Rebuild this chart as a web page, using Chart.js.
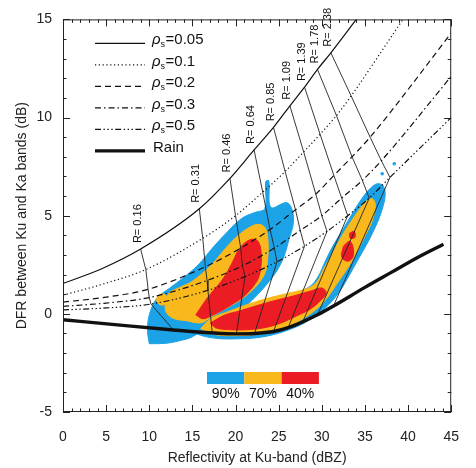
<!DOCTYPE html>
<html>
<head>
<meta charset="utf-8">
<script src="https://cdn.jsdelivr.net/npm/chart.js"></script>
<style>
  html, body { margin: 0; padding: 0; background: #fff; }
  canvas { display: block; }
</style>
</head>
<body>
<canvas id="dfr" width="476" height="468"></canvas>
<script>
// snowfall rate for each iso-R line (drawn as "R= ..." labels)
const rateLabels = ['0.16', '0.31', '0.46', '0.64', '0.85', '1.09', '1.39', '1.78', '2.38'];
const densityLabels = ['0.05', '0.1', '0.2', '0.3', '0.5'];
const pctLabels = ['90%', '70%', '40%'];

// DFR vs Ku reflectivity for each snow density; the first two points of every
// curve lead in from x=0, the next nine sit on the iso-R lines, the rest run out
const rho005X = [0, 4.5, 9.0, 15.8, 19.35, 22.15, 24.4, 26.3, 28.0, 29.5, 31.05, 34.0];
const rho005Y = [1.55, 2.3, 3.3, 5.35, 6.9, 8.35, 9.5, 10.6, 11.55, 12.45, 13.3, 15.0];
const rho01X = [0, 4.5, 9.6, 16.2, 20.0, 23.15, 25.75, 27.9, 29.8, 31.7, 33.4, 39.4];
const rho01Y = [0.95, 1.5, 2.26, 3.85, 5.0, 6.2, 7.25, 8.25, 9.15, 10.1, 11.1, 15.0];
const rho02X = [0, 5, 9.87, 16.5, 20.6, 24.0, 26.95, 29.3, 31.4, 33.5, 35.6, 45];
const rho02Y = [0.6, 0.85, 1.25, 2.4, 3.35, 4.3, 5.3, 6.1, 7.05, 8.0, 9.0, 14.3];
const rho03X = [0, 5, 10.0, 16.7, 20.8, 24.5, 27.5, 30.0, 32.3, 34.7, 36.9, 45];
const rho03Y = [0.38, 0.55, 0.83, 1.7, 2.45, 3.35, 4.25, 5.0, 5.9, 6.8, 7.8, 12.1];
const rho05X = [0, 5, 10.2, 16.8, 21.1, 24.8, 28.0, 30.6, 33.0, 35.5, 37.9, 45];
const rho05Y = [0.2, 0.3, 0.5, 1.2, 1.9, 2.65, 3.45, 4.2, 5.0, 5.9, 6.95, 10.0];
const rainX = [0, 6, 12.8, 17.3, 20.1, 22.2, 24.4, 26.1, 27.8, 29.5, 31.35, 35, 38, 41, 44.1];
const rainY = [-0.3, -0.55, -0.82, -0.97, -1.02, -1.0, -0.9, -0.7, -0.4, -0.05, 0.4, 1.35, 2.1, 2.85, 3.55];
const LEAD = 2;

// occurrence contours (outlines, dBZ / dB)
const blueUpperX = [10.0, 9.8, 10.0, 10.9, 12.4, 13.9, 15.75, 17.3, 19.1, 20.7, 22.2, 23.4, 23.5, 23.85, 24.1, 25.9, 26.55, 26.7, 26.2, 25.6, 24.8, 23.8, 22.6, 21.3, 19.6, 17.9, 16.2, 14.85, 13.7, 12.0];
const blueUpperY = [-1.52, -0.86, -0.05, 0.81, 1.32, 1.82, 2.53, 3.34, 4.2, 4.86, 5.16, 5.37, 6.73, 6.78, 5.42, 5.67, 5.32, 4.61, 3.8, 2.9, 2.2, 1.6, 1.0, 0.45, -0.05, -0.45, -0.85, -1.2, -1.35, -1.5];
const blueLowerX = [15.4, 16.5, 17.9, 19.5, 21.0, 22.4, 23.85, 25.5, 27.2, 28.7, 29.6, 30.4, 31.2, 32.1, 33.0, 33.9, 34.8, 35.7, 36.45, 37.1, 37.35, 37.0, 36.3, 35.4, 34.3, 33.2, 32.1, 30.9, 29.6, 28.0, 26.2, 24.4, 22.4, 20.4, 18.3, 16.5];
const blueLowerY = [-1.01, -0.56, -0.25, 0.0, 0.25, 0.51, 0.71, 0.91, 1.11, 1.42, 1.92, 2.68, 3.39, 4.05, 4.71, 5.37, 5.97, 6.43, 6.63, 6.53, 6.08, 5.32, 4.51, 3.7, 2.84, 1.97, 1.16, 0.51, 0.0, -0.46, -0.81, -1.06, -1.22, -1.27, -1.27, -1.16];
const blueDotX = [37.0, 38.4];
const blueDotY = [7.14, 7.65];
const orangeUpperX = [11.8, 12.3, 13.4, 14.85, 16.2, 17.4, 18.55, 19.6, 20.6, 21.6, 22.6, 23.4, 23.75, 23.75, 23.5, 22.8, 21.7, 20.4, 18.8, 17.2, 16.0, 14.3, 12.9, 12.0];
const orangeUpperY = [0.51, 1.06, 1.32, 1.62, 2.08, 2.58, 3.19, 3.7, 4.1, 4.4, 4.56, 4.4, 3.8, 2.94, 2.18, 1.62, 1.11, 0.66, 0.25, -0.15, -0.46, -0.35, -0.25, 0.05];
const orangeRingX = [10.8, 11.1, 11.7, 12.15, 11.9, 11.25];
const orangeRingY = [0.71, 0.96, 1.01, 0.81, 0.51, 0.46];
const orangeLowerX = [15.95, 17.1, 19.35, 21.6, 23.85, 26.7, 28.5, 29.5, 30.25, 31.2, 32.1, 33.1, 34.1, 35.0, 35.8, 36.2, 35.9, 35.1, 34.1, 33.0, 31.8, 30.7, 29.4, 27.8, 26.0, 24.2, 22.2, 19.9, 17.7];
const orangeLowerY = [-0.76, -0.25, 0.15, 0.51, 0.81, 1.11, 1.32, 1.67, 2.33, 3.04, 3.8, 4.51, 5.16, 5.67, 5.87, 5.57, 4.81, 4.05, 3.19, 2.33, 1.57, 0.86, 0.25, -0.25, -0.66, -0.91, -1.06, -1.11, -1.06];
const redUpperX = [15.4, 16.1, 16.9, 17.7, 18.45, 19.1, 19.7, 20.25, 21.0, 21.9, 22.6, 22.95, 22.95, 22.6, 21.9, 20.9, 19.9, 18.55, 17.2, 16.2];
const redUpperY = [-0.05, 0.41, 0.91, 1.32, 1.72, 2.18, 2.68, 3.19, 3.59, 3.8, 3.7, 3.19, 2.43, 1.77, 1.32, 0.86, 0.56, 0.2, -0.1, -0.25];
const redLowerX = [17.1, 18.8, 20.5, 22.4, 24.4, 26.7, 28.7, 30.0, 30.5, 29.8, 28.7, 27.1, 25.3, 23.3, 21.3, 19.35, 17.7];
const redLowerY = [-0.46, -0.05, 0.15, 0.41, 0.66, 0.91, 1.16, 1.32, 1.06, 0.66, 0.25, -0.1, -0.46, -0.71, -0.81, -0.81, -0.71];
const redPatchX = [32.5, 33.2, 33.6, 33.6, 33.0, 32.3];
const redPatchY = [3.44, 3.7, 3.44, 2.89, 2.68, 2.89];
const redSpotX = [33.2, 33.75, 33.85, 33.3];
const redSpotY = [4.1, 4.2, 3.9, 3.85];

const BLUE = '#1ca2e6', ORANGE = '#f9b81b', RED = '#ec1c24', INK = '#111';
const FONT = '"Liberation Sans", Arial, sans-serif';

const xy = (xs, ys) => xs.map((v, i) => ({ x: v, y: ys[i] }));
const ring = (xs, ys) => { const p = xy(xs, ys); p.push(p[0]); return p; };

function curve(xs, ys, dash, width) {
  return {
    data: xy(xs, ys), showLine: true, borderColor: INK, borderWidth: width,
    borderDash: dash, pointRadius: 0, cubicInterpolationMode: 'monotone', fill: false, order: 0
  };
}

function blob(xs, ys, color, order) {
  return {
    data: ring(xs, ys), showLine: true, borderColor: color, borderWidth: 1,
    backgroundColor: color, pointRadius: 0, tension: 0.35, fill: 'shape', order
  };
}

const styles = [
  { xs: rho005X, ys: rho005Y, dash: [], width: 1.2 },
  { xs: rho01X, ys: rho01Y, dash: [1.2, 2.6], width: 1.2 },
  { xs: rho02X, ys: rho02Y, dash: [6, 4], width: 1.2 },
  { xs: rho03X, ys: rho03Y, dash: [6, 3, 1.5, 3], width: 1.2 },
  { xs: rho05X, ys: rho05Y, dash: [6, 2.5, 1.4, 2.5, 1.4, 2.5, 1.4, 2.5], width: 1.2 },
  { xs: rainX, ys: rainY, dash: [], width: 3.4 }
];

const datasets = [];
styles.forEach(s => datasets.push(curve(s.xs, s.ys, s.dash, s.width)));

// iso-R lines join the same node on every density curve, then drop to rain
rateLabels.forEach((r, k) => {
  const pts = styles.map(s => ({ x: s.xs[k + LEAD], y: s.ys[k + LEAD] }));
  datasets.push({
    data: pts, showLine: true, borderColor: '#222', borderWidth: 0.9,
    pointRadius: 0, tension: 0, fill: false, order: 1
  });
});

datasets.push(blob(redUpperX, redUpperY, RED, 10));
datasets.push(blob(redLowerX, redLowerY, RED, 10));
datasets.push(blob(redPatchX, redPatchY, RED, 10));
datasets.push(blob(redSpotX, redSpotY, RED, 10));
datasets.push(blob(orangeUpperX, orangeUpperY, ORANGE, 20));
datasets.push(blob(orangeRingX, orangeRingY, ORANGE, 20));
datasets.push(blob(orangeLowerX, orangeLowerY, ORANGE, 20));
datasets.push(blob(blueUpperX, blueUpperY, BLUE, 30));
datasets.push(blob(blueLowerX, blueLowerY, BLUE, 30));
datasets.push({
  data: xy(blueDotX, blueDotY), showLine: false, pointRadius: 1.8,
  pointBackgroundColor: BLUE, pointBorderWidth: 0, order: 30
});

// box around the plot with inward major/minor ticks on all four sides
const framePlugin = {
  id: 'frame',
  afterDatasetsDraw(chart) {
    const { ctx, chartArea: a, scales: { x, y } } = chart;
    ctx.save();
    ctx.strokeStyle = '#222';
    ctx.lineWidth = 1;
    ctx.setLineDash([]);
    ctx.strokeRect(a.left + 0.5, a.top + 0.5, a.right - a.left - 1, a.bottom - a.top - 1);
    ctx.beginPath();
    for (let v = x.min; v <= x.max; v++) {
      const px = Math.round(x.getPixelForValue(v)) + 0.5;
      const len = v % 5 === 0 ? 7 : 3.5;
      ctx.moveTo(px, a.bottom); ctx.lineTo(px, a.bottom - len);
      ctx.moveTo(px, a.top); ctx.lineTo(px, a.top + len);
    }
    for (let v = y.min; v <= y.max; v++) {
      const py = Math.round(y.getPixelForValue(v)) + 0.5;
      const len = v % 5 === 0 ? 7 : 3.5;
      ctx.moveTo(a.left, py); ctx.lineTo(a.left + len, py);
      ctx.moveTo(a.right, py); ctx.lineTo(a.right - len, py);
    }
    ctx.stroke();
    ctx.restore();
  }
};

// "R= x.xx" tags standing on top of each iso-R line
const rLabelPlugin = {
  id: 'rLabels',
  afterDatasetsDraw(chart) {
    const { ctx, scales: { x, y } } = chart;
    ctx.save();
    ctx.font = '11px ' + FONT;
    ctx.fillStyle = INK;
    ctx.textAlign = 'left';
    ctx.textBaseline = 'middle';
    rateLabels.forEach((r, k) => {
      const px = x.getPixelForValue(rho005X[k + LEAD]) - 3;
      const py = y.getPixelForValue(rho005Y[k + LEAD]) - 6;
      ctx.save();
      ctx.translate(px, py);
      ctx.rotate(-Math.PI / 2);
      ctx.fillText('R= ' + r, 0, 0);
      ctx.restore();
    });
    ctx.restore();
  }
};

// line-style key (upper left) and the percentage colour bar (bottom)
const keyPlugin = {
  id: 'keys',
  afterDraw(chart) {
    const { ctx, chartArea: a } = chart;
    ctx.save();
    ctx.fillStyle = INK;
    ctx.strokeStyle = INK;
    ctx.textBaseline = 'alphabetic';
    const x0 = a.left + 32, x1 = a.left + 82, tx = a.left + 89;
    styles.forEach((s, i) => {
      const ly = a.top + 24 + i * 21.5;
      ctx.beginPath();
      ctx.setLineDash(s.dash);
      ctx.lineWidth = s.width;
      ctx.moveTo(x0, ly);
      ctx.lineTo(x1, ly);
      ctx.stroke();
      ctx.setLineDash([]);
      const by = ly + 1;
      if (i < densityLabels.length) {
        let cx = tx;
        ctx.font = 'italic 15px ' + FONT;
        ctx.fillText('\u03c1', cx, by);
        cx += ctx.measureText('\u03c1').width;
        ctx.font = '9px ' + FONT;
        ctx.fillText('s', cx, by + 3);
        cx += ctx.measureText('s').width + 0.5;
        ctx.font = '15px ' + FONT;
        ctx.fillText('=' + densityLabels[i], cx, by);
      } else {
        ctx.font = '15px ' + FONT;
        ctx.fillText('Rain', tx + 1, by);
      }
    });

    const barX = a.left + 144, barW = 37.3, barTop = a.bottom - 40, barH = 12;
    [BLUE, ORANGE, RED].forEach((c, i) => {
      ctx.fillStyle = c;
      ctx.fillRect(barX + i * barW, barTop, barW, barH);
    });
    ctx.fillStyle = INK;
    ctx.font = '14px ' + FONT;
    ctx.textAlign = 'center';
    pctLabels.forEach((t, i) => ctx.fillText(t, barX + (i + 0.5) * barW, a.bottom - 14));
    ctx.restore();
  }
};

new Chart(document.getElementById('dfr'), {
  type: 'scatter',
  data: { datasets },
  options: {
    responsive: false,
    animation: false,
    events: [],
    layout: { padding: { top: 17, right: 13, left: 0, bottom: 0 } },
    plugins: { legend: { display: false }, tooltip: { enabled: false } },
    scales: {
      x: {
        type: 'linear', min: 0, max: 45,
        grid: { display: false, drawTicks: false },
        border: { display: false },
        ticks: { stepSize: 5, padding: 17, color: '#222', font: { family: FONT, size: 14 } },
        title: { display: true, text: 'Reflectivity at Ku-band (dBZ)', color: '#222', font: { family: FONT, size: 14 }, padding: { top: 0, bottom: 1 } },
        afterFit(s) { s.height = 56; }
      },
      y: {
        type: 'linear', min: -5, max: 15,
        grid: { display: false, drawTicks: false },
        border: { display: false },
        ticks: { stepSize: 5, padding: 11, color: '#222', font: { family: FONT, size: 14 } },
        title: { display: true, text: 'DFR between Ku and Ka bands (dB)', color: '#222', font: { family: FONT, size: 14 }, padding: { top: 14, bottom: 0 } },
        afterFit(s) { s.width = 63; }
      }
    }
  },
  plugins: [framePlugin, rLabelPlugin, keyPlugin]
});
</script>
</body>
</html>
